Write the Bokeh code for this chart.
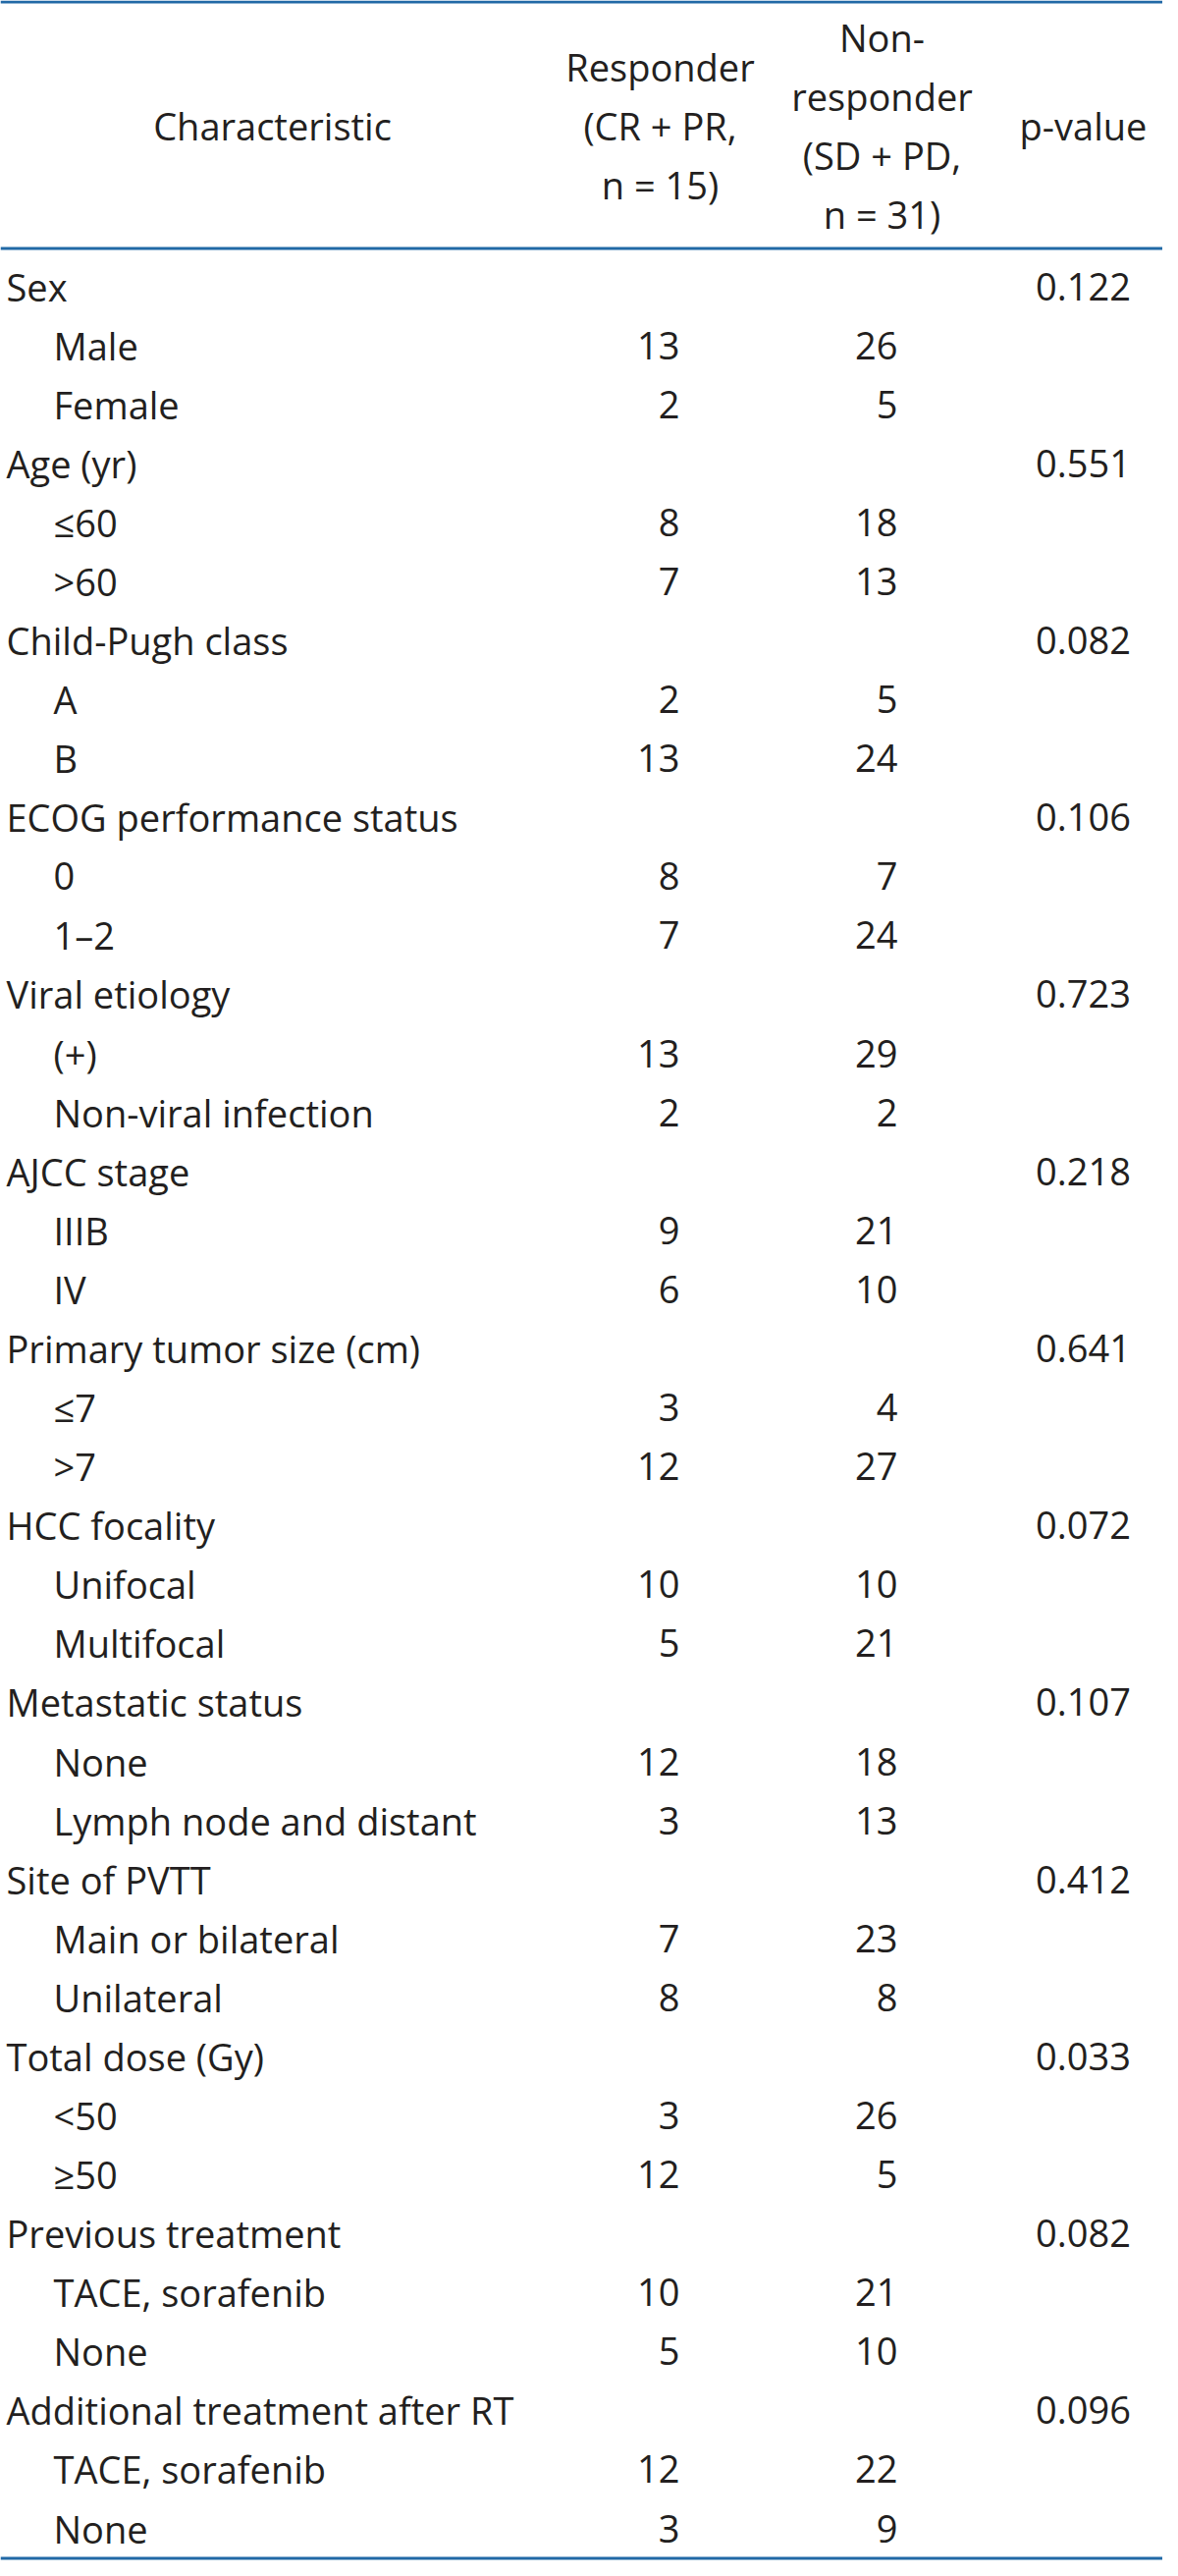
from bokeh.plotting import figure
from bokeh.models import Range1d, Span
from bokeh.core.properties import value
from bokeh.embed import file_html
from bokeh.resources import INLINE

# ---- data ----
groups = ["Sex", "Age (yr)", "Child-Pugh class", "ECOG performance status",
          "Viral etiology", "AJCC stage", "Primary tumor size (cm)", "HCC focality",
          "Metastatic status", "Site of PVTT", "Total dose (Gy)", "Previous treatment",
          "Additional treatment after RT"]
p_values = ["0.122", "0.551", "0.082", "0.106", "0.723", "0.218", "0.641", "0.072",
            "0.107", "0.412", "0.033", "0.082", "0.096"]
sub_labels = [["Male", "Female"], ["\u226460", ">60"], ["A", "B"], ["0", "1\u20132"],
              ["(+)", "Non-viral infection"], ["IIIB", "IV"], ["\u22647", ">7"],
              ["Unifocal", "Multifocal"], ["None", "Lymph node and distant"],
              ["Main or bilateral", "Unilateral"], ["<50", "\u226550"],
              ["TACE, sorafenib", "None"], ["TACE, sorafenib", "None"]]
responder = [[13, 2], [8, 7], [2, 13], [8, 7], [13, 2], [9, 6], [3, 12], [10, 5],
             [12, 3], [7, 8], [3, 12], [10, 5], [12, 3]]
non_responder = [[26, 5], [18, 13], [5, 24], [7, 24], [29, 2], [21, 10], [4, 27],
                 [10, 21], [18, 13], [23, 8], [26, 5], [21, 10], [22, 9]]
header_char = ["Characteristic"]
header_resp = ["Responder", "(CR + PR,", "n = 15)"]
header_nonresp = ["Non-", "responder", "(SD + PD,", "n = 31)"]
header_p = ["p-value"]

# ---- layout ----
W, H = 1184, 2607
FONT = "Open Sans"
FS = "38px"
TXT = "#231f20"
LINE = "#2169a6"
ROW0, PITCH = 299.0, 60.08
X_L0, X_L1 = 14, 62
X_R, X_NR, X_P = 700, 922, 1111
HL = 60.0

p = figure(width=W, height=H, output_backend="svg", toolbar_location=None,
           x_range=Range1d(8, 8 + W), y_range=Range1d(8 + H, 8),
           min_border=0, outline_line_color=None)
p.axis.visible = False
p.grid.visible = False
p.background_fill_color = "white"
p.border_fill_color = "white"

lab_x, lab_y, lab_t = [], [], []
num_y, r_t, nr_t = [], [], []
pv_y, pv_t = [], []
row = 0
for g, pv, subs, rs, nrs in zip(groups, p_values, sub_labels, responder, non_responder):
    y = ROW0 + PITCH * row
    lab_x.append(X_L0); lab_y.append(y); lab_t.append(g)
    pv_y.append(y); pv_t.append(pv)
    row += 1
    for s, a, b in zip(subs, rs, nrs):
        y = ROW0 + PITCH * row
        lab_x.append(X_L1); lab_y.append(y); lab_t.append(s)
        num_y.append(y); r_t.append(str(a)); nr_t.append(str(b))
        row += 1

common = dict(text_font=value(FONT), text_font_size=FS, text_color=TXT,
              text_baseline="middle")
p.text(x=lab_x, y=lab_y, text=lab_t, text_align="left", **common)
p.text(x=[X_R] * len(num_y), y=num_y, text=r_t, text_align="right", **common)
p.text(x=[X_NR] * len(num_y), y=num_y, text=nr_t, text_align="right", **common)
p.text(x=[X_P] * len(pv_y), y=pv_y, text=pv_t, text_align="center", **common)

# header
HC = 135.0
def block(lines, xc):
    n = len(lines)
    ys = [HC + (i - (n - 1) / 2) * HL for i in range(n)]
    p.text(x=[xc] * n, y=ys, text=lines, text_align="center", **common)

block(header_char, 285)
block(header_resp, 680)
block(header_nonresp, 906)
block(header_p, 1111)

for loc in (9.5, 260.5, 2612.5):
    p.add_layout(Span(location=loc, dimension="width", line_color=LINE, line_width=3))

open("out.html", "w").write(file_html(p, INLINE))
